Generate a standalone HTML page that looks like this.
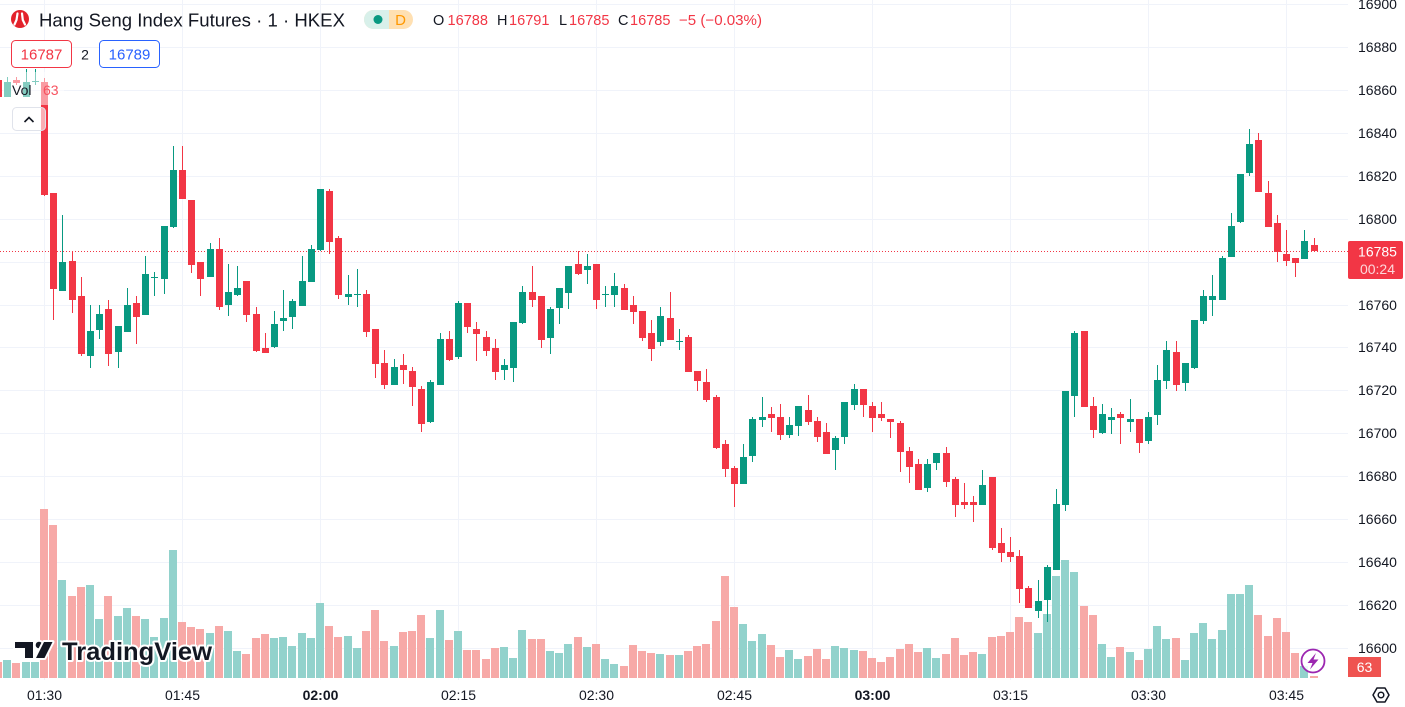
<!DOCTYPE html>
<html><head><meta charset="utf-8"><style>
html,body{margin:0;padding:0;background:#fff;}
svg{display:block;font-family:"Liberation Sans",sans-serif;}
</style></head><body>
<svg width="1405" height="707" viewBox="0 0 1405 707" xmlns="http://www.w3.org/2000/svg">
<rect width="1405" height="707" fill="#fff"/>
<!-- grid -->
<g stroke="#f0f3fa" stroke-width="1" shape-rendering="crispEdges">
<path d="M44.5 0V680M182.5 0V680M320.5 0V680M458.5 0V680M596.5 0V680M734.5 0V680M872.5 0V680M1010.5 0V680M1148.5 0V680M1286.5 0V680"/>
<path d="M0 4.5H1348M0 47.5H1348M0 90.5H1348M0 133.5H1348M0 176.5H1348M0 219.5H1348M0 262.5H1348M0 305.5H1348M0 347.5H1348M0 390.5H1348M0 433.5H1348M0 476.5H1348M0 519.5H1348M0 562.5H1348M0 605.5H1348M0 648.5H1348"/>
</g>
<!-- volume -->
<g shape-rendering="crispEdges">
<path fill="#92d2cc" d="M3 660h8V678h-8zM22 662h8V678h-8zM31 662h8V678h-8zM58 580h8V678h-8zM86 585h8V678h-8zM95 619h8V678h-8zM114 616h8V678h-8zM123 608h8V678h-8zM141 619h8V678h-8zM150 637h8V678h-8zM160 618h8V678h-8zM169 550h8V678h-8zM206 633h8V678h-8zM224 631h8V678h-8zM233 651h8V678h-8zM270 638h8V678h-8zM279 637h8V678h-8zM288 646h8V678h-8zM298 633h8V678h-8zM307 638h8V678h-8zM316 603h8V678h-8zM344 636h8V678h-8zM353 648h8V678h-8zM390 646h8V678h-8zM426 638h8V678h-8zM436 610h8V678h-8zM454 631h8V678h-8zM500 647h8V678h-8zM509 658h8V678h-8zM518 630h8V678h-8zM546 651h8V678h-8zM555 653h8V678h-8zM564 644h8V678h-8zM583 647h8V678h-8zM601 659h8V678h-8zM610 664h8V678h-8zM656 654h8V678h-8zM675 655h8V678h-8zM739 624h8V678h-8zM748 641h8V678h-8zM758 634h8V678h-8zM785 650h8V678h-8zM794 659h8V678h-8zM831 646h8V678h-8zM840 648h8V678h-8zM850 650h8V678h-8zM923 648h8V678h-8zM932 658h8V678h-8zM978 654h8V678h-8zM1034 633h8V678h-8zM1043 614h8V678h-8zM1052 576h8V678h-8zM1061 560h8V678h-8zM1070 572h8V678h-8zM1098 644h8V678h-8zM1107 657h8V678h-8zM1126 652h8V678h-8zM1144 649h8V678h-8zM1153 626h8V678h-8zM1162 639h8V678h-8zM1181 660h8V678h-8zM1190 633h8V678h-8zM1199 623h8V678h-8zM1208 639h8V678h-8zM1218 630h8V678h-8zM1227 594h8V678h-8zM1236 594h8V678h-8zM1245 585h8V678h-8zM1300 666h8V678h-8z"/>
<path fill="#f7a9a7" d="M-6 662h8V678h-8zM12 663h8V678h-8zM40 509h8V678h-8zM49 525h8V678h-8zM68 596h8V678h-8zM77 587h8V678h-8zM104 596h8V678h-8zM132 616h8V678h-8zM178 622h8V678h-8zM187 627h8V678h-8zM196 629h8V678h-8zM215 626h8V678h-8zM242 654h8V678h-8zM252 638h8V678h-8zM261 634h8V678h-8zM325 626h8V678h-8zM334 637h8V678h-8zM362 631h8V678h-8zM371 610h8V678h-8zM380 641h8V678h-8zM399 632h8V678h-8zM408 631h8V678h-8zM417 615h8V678h-8zM445 640h8V678h-8zM463 650h8V678h-8zM472 650h8V678h-8zM482 659h8V678h-8zM491 648h8V678h-8zM528 639h8V678h-8zM537 639h8V678h-8zM574 637h8V678h-8zM592 644h8V678h-8zM620 666h8V678h-8zM629 645h8V678h-8zM638 651h8V678h-8zM647 653h8V678h-8zM666 655h8V678h-8zM684 651h8V678h-8zM693 646h8V678h-8zM702 644h8V678h-8zM712 621h8V678h-8zM721 576h8V678h-8zM730 607h8V678h-8zM767 645h8V678h-8zM776 657h8V678h-8zM804 656h8V678h-8zM813 649h8V678h-8zM822 659h8V678h-8zM859 651h8V678h-8zM868 658h8V678h-8zM877 662h8V678h-8zM886 657h8V678h-8zM896 649h8V678h-8zM905 644h8V678h-8zM914 652h8V678h-8zM942 654h8V678h-8zM951 638h8V678h-8zM960 655h8V678h-8zM969 652h8V678h-8zM988 637h8V678h-8zM997 636h8V678h-8zM1006 632h8V678h-8zM1015 617h8V678h-8zM1024 622h8V678h-8zM1080 606h8V678h-8zM1089 615h8V678h-8zM1116 647h8V678h-8zM1135 660h8V678h-8zM1172 638h8V678h-8zM1254 615h8V678h-8zM1264 636h8V678h-8zM1273 618h8V678h-8zM1282 632h8V678h-8zM1291 653h8V678h-8zM1310 676h8V678h-8z"/>
</g>
<!-- price line -->
<line x1="0" y1="251.5" x2="1348" y2="251.5" stroke="#f23645" stroke-width="1" stroke-dasharray="1 2"/>
<!-- candles -->
<g shape-rendering="crispEdges">
<path fill="#089981" d="M7 77h1v20h-1zM26 69h1v28h-1zM35 69h1v16h-1zM62 215h1v76h-1zM90 305h1v63h-1zM99 305h1v34h-1zM118 326h1v42h-1zM127 288h1v44h-1zM145 256h1v59h-1zM154 272h1v24h-1zM164 226h1v68h-1zM173 146h1v82h-1zM210 243h1v34h-1zM228 264h1v52h-1zM237 266h1v30h-1zM274 311h1v37h-1zM283 290h1v41h-1zM292 299h1v30h-1zM302 256h1v50h-1zM311 245h1v37h-1zM320 189h1v62h-1zM348 275h1v30h-1zM357 269h1v38h-1zM394 359h1v26h-1zM430 380h1v43h-1zM440 333h1v52h-1zM458 301h1v58h-1zM504 359h1v21h-1zM513 322h1v60h-1zM522 286h1v38h-1zM550 307h1v47h-1zM559 288h1v36h-1zM568 266h1v43h-1zM587 254h1v30h-1zM605 286h1v21h-1zM614 273h1v34h-1zM660 307h1v39h-1zM679 329h1v21h-1zM743 444h1v40h-1zM752 417h1v45h-1zM762 397h1v30h-1zM789 417h1v21h-1zM798 406h1v30h-1zM835 436h1v34h-1zM844 402h1v42h-1zM854 384h1v26h-1zM927 459h1v33h-1zM936 453h1v17h-1zM982 470h1v35h-1zM1038 580h1v38h-1zM1047 565h1v57h-1zM1056 489h1v81h-1zM1065 391h1v120h-1zM1074 331h1v86h-1zM1102 404h1v30h-1zM1111 408h1v26h-1zM1130 399h1v33h-1zM1148 412h1v32h-1zM1157 365h1v60h-1zM1166 341h1v48h-1zM1185 363h1v28h-1zM1194 320h1v49h-1zM1203 290h1v34h-1zM1212 275h1v41h-1zM1222 256h1v44h-1zM1231 213h1v44h-1zM1240 174h1v49h-1zM1249 129h1v47h-1zM1304 230h1v29h-1z
M4 82h7v15h-7zM23 82h7v15h-7zM32 81h7v1h-7zM59 262h7v29h-7zM87 331h7v25h-7zM96 314h7v16h-7zM115 326h7v26h-7zM124 305h7v27h-7zM142 274h7v41h-7zM151 277h7v1h-7zM161 226h7v53h-7zM170 170h7v57h-7zM207 249h7v28h-7zM225 292h7v13h-7zM234 288h7v7h-7zM271 324h7v23h-7zM280 318h7v3h-7zM289 301h7v16h-7zM299 281h7v25h-7zM308 249h7v33h-7zM317 189h7v61h-7zM345 294h7v3h-7zM354 294h7v1h-7zM391 367h7v18h-7zM427 382h7v40h-7zM437 339h7v46h-7zM455 303h7v54h-7zM501 365h7v5h-7zM510 322h7v46h-7zM519 292h7v31h-7zM547 309h7v29h-7zM556 288h7v20h-7zM565 266h7v27h-7zM584 266h7v4h-7zM602 294h7v1h-7zM611 286h7v9h-7zM657 316h7v26h-7zM676 341h7v1h-7zM740 457h7v27h-7zM749 419h7v37h-7zM759 417h7v3h-7zM786 425h7v10h-7zM795 406h7v20h-7zM832 438h7v12h-7zM841 402h7v35h-7zM851 389h7v16h-7zM924 464h7v24h-7zM933 453h7v10h-7zM979 485h7v20h-7zM1035 601h7v10h-7zM1044 567h7v33h-7zM1053 504h7v66h-7zM1062 391h7v114h-7zM1071 333h7v63h-7zM1099 414h7v19h-7zM1108 417h7v3h-7zM1127 419h7v3h-7zM1145 417h7v24h-7zM1154 380h7v35h-7zM1163 350h7v31h-7zM1182 363h7v20h-7zM1191 320h7v48h-7zM1200 296h7v25h-7zM1209 296h7v4h-7zM1219 258h7v42h-7zM1228 226h7v31h-7zM1237 174h7v48h-7zM1246 144h7v29h-7zM1301 241h7v18h-7z"/>
<path fill="#f23645" d="M-2 80h1v17h-1zM16 77h1v8h-1zM44 78h1v118h-1zM53 193h1v127h-1zM72 252h1v61h-1zM81 277h1v79h-1zM108 300h1v66h-1zM136 296h1v48h-1zM182 146h1v53h-1zM191 200h1v73h-1zM200 262h1v34h-1zM219 238h1v72h-1zM246 281h1v41h-1zM256 307h1v45h-1zM265 333h1v20h-1zM329 189h1v65h-1zM338 236h1v63h-1zM366 290h1v47h-1zM375 329h1v49h-1zM384 350h1v39h-1zM403 354h1v30h-1zM412 367h1v39h-1zM421 386h1v46h-1zM449 331h1v30h-1zM467 303h1v30h-1zM476 322h1v39h-1zM486 331h1v25h-1zM495 339h1v41h-1zM532 266h1v41h-1zM541 296h1v52h-1zM578 251h1v24h-1zM596 264h1v45h-1zM624 284h1v26h-1zM633 296h1v28h-1zM642 311h1v30h-1zM651 320h1v41h-1zM670 292h1v48h-1zM688 335h1v37h-1zM697 371h1v20h-1zM706 369h1v33h-1zM716 395h1v54h-1zM725 440h1v37h-1zM734 466h1v41h-1zM771 407h1v25h-1zM780 404h1v36h-1zM808 395h1v30h-1zM817 417h1v25h-1zM826 423h1v31h-1zM863 389h1v28h-1zM872 402h1v30h-1zM881 402h1v19h-1zM890 419h1v19h-1zM900 421h1v51h-1zM909 447h1v36h-1zM918 459h1v31h-1zM946 447h1v40h-1zM955 477h1v40h-1zM964 483h1v26h-1zM973 496h1v26h-1zM992 477h1v73h-1zM1001 528h1v34h-1zM1010 537h1v25h-1zM1019 550h1v53h-1zM1028 586h1v22h-1zM1084 331h1v76h-1zM1093 397h1v41h-1zM1120 412h1v32h-1zM1139 419h1v34h-1zM1176 341h1v50h-1zM1258 133h1v59h-1zM1268 181h1v46h-1zM1277 215h1v47h-1zM1286 230h1v36h-1zM1295 258h1v19h-1zM1314 238h1v13h-1z
M-5 80h7v17h-7zM13 80h7v3h-7zM41 82h7v113h-7zM50 193h7v96h-7zM69 261h7v39h-7zM78 296h7v58h-7zM105 309h7v45h-7zM133 303h7v14h-7zM179 170h7v29h-7zM188 200h7v65h-7zM197 262h7v17h-7zM216 249h7v58h-7zM243 281h7v34h-7zM253 314h7v37h-7zM262 348h7v5h-7zM326 191h7v51h-7zM335 238h7v57h-7zM363 294h7v38h-7zM372 329h7v35h-7zM381 363h7v22h-7zM400 365h7v5h-7zM409 371h7v16h-7zM418 389h7v35h-7zM446 339h7v21h-7zM464 303h7v24h-7zM473 329h7v5h-7zM483 337h7v14h-7zM492 348h7v24h-7zM529 292h7v8h-7zM538 296h7v44h-7zM575 264h7v10h-7zM593 264h7v36h-7zM621 288h7v22h-7zM630 305h7v7h-7zM639 311h7v27h-7zM648 333h7v16h-7zM667 318h7v22h-7zM685 337h7v35h-7zM694 371h7v10h-7zM703 382h7v18h-7zM713 397h7v51h-7zM722 444h7v25h-7zM731 468h7v16h-7zM768 414h7v4h-7zM777 417h7v18h-7zM805 410h7v12h-7zM814 421h7v16h-7zM823 432h7v22h-7zM860 389h7v16h-7zM869 406h7v12h-7zM878 414h7v4h-7zM887 419h7v3h-7zM897 423h7v29h-7zM906 451h7v16h-7zM915 464h7v26h-7zM943 453h7v29h-7zM952 479h7v26h-7zM961 502h7v3h-7zM970 502h7v3h-7zM989 477h7v71h-7zM998 543h7v10h-7zM1007 552h7v5h-7zM1016 556h7v33h-7zM1025 588h7v20h-7zM1081 331h7v76h-7zM1090 406h7v24h-7zM1117 414h7v4h-7zM1136 419h7v24h-7zM1173 352h7v33h-7zM1255 140h7v52h-7zM1265 193h7v34h-7zM1274 223h7v29h-7zM1283 254h7v7h-7zM1292 258h7v5h-7zM1311 245h7v6h-7z"/>
</g>
<!-- legend overlay -->
<rect x="3" y="72" width="61" height="33" fill="#fff" fill-opacity="0.5"/>
<!-- header -->
<circle cx="20" cy="19" r="9" fill="#e3222b"/>
<path d="M17.5 13.5 L16.5 20 L14.5 24.5 M22 13.5 L22.8 20 L25 24.5" stroke="#fff" stroke-width="2.2" fill="none" stroke-linecap="round"/>
<text x="39" y="26.5" font-size="18" fill="#131722" textLength="306" lengthAdjust="spacingAndGlyphs">Hang Seng Index Futures · 1 · HKEX</text>
<rect x="364" y="10" width="49" height="19" rx="9.5" fill="#ffe0b2"/>
<rect x="364" y="10" width="30" height="19" rx="9.5" fill="#d8f0ea"/>
<rect x="380" y="10" width="9" height="19" fill="#d8f0ea"/>
<rect x="389" y="10" width="6" height="19" fill="#ffe0b2"/>
<circle cx="378" cy="19.5" r="4.5" fill="#089981"/>
<text x="400.5" y="25" font-size="15" fill="#ff9800" text-anchor="middle">D</text>
<g font-size="14.5">
<text x="433" y="25" fill="#131722">O</text>
<text x="447.5" y="25" fill="#f23645" textLength="40.5" lengthAdjust="spacingAndGlyphs">16788</text>
<text x="497" y="25" fill="#131722">H</text>
<text x="509" y="25" fill="#f23645" textLength="40.5" lengthAdjust="spacingAndGlyphs">16791</text>
<text x="559" y="25" fill="#131722">L</text>
<text x="569" y="25" fill="#f23645" textLength="40.5" lengthAdjust="spacingAndGlyphs">16785</text>
<text x="618" y="25" fill="#131722">C</text>
<text x="630" y="25" fill="#f23645" textLength="40.5" lengthAdjust="spacingAndGlyphs">16785</text>
<text x="679" y="25" fill="#f23645" textLength="83" lengthAdjust="spacingAndGlyphs">−5 (−0.03%)</text>
</g>
<rect x="11.5" y="40.5" width="60" height="27" rx="4" fill="#fff" stroke="#f23645"/>
<text x="41.5" y="59.5" font-size="15" fill="#f23645" text-anchor="middle">16787</text>
<text x="85" y="59.5" font-size="14" fill="#131722" text-anchor="middle">2</text>
<rect x="99.5" y="40.5" width="60" height="27" rx="4" fill="#fff" stroke="#2962ff"/>
<text x="129.5" y="59.5" font-size="15" fill="#2962ff" text-anchor="middle">16789</text>
<text x="12" y="95" font-size="14" fill="#131722">Vol</text>
<text x="43" y="95" font-size="14" fill="#f7525f">63</text>
<rect x="12.5" y="107.5" width="33" height="23" rx="4" fill="#fff" fill-opacity="0.6" stroke="#e0e3eb"/>
<polyline points="24.5,122 29,117.5 33.5,122" fill="none" stroke="#131722" stroke-width="1.6"/>
<!-- watermark -->
<g stroke="#fff" stroke-width="4" stroke-linejoin="round" paint-order="stroke">
<path d="M15 642H33V658H25V648H15Z" fill="#131722"/>
<circle cx="39" cy="645" r="3.3" fill="#131722"/>
<path d="M44 642H52.5L44.5 658H36Z" fill="#131722"/>
<text x="62" y="660" font-size="25" font-weight="bold" fill="#131722" textLength="150" lengthAdjust="spacingAndGlyphs">TradingView</text>
</g>
<!-- lightning icon -->
<circle cx="1313" cy="661" r="11.5" fill="#fff" fill-opacity="0.85" stroke="#9c27b0" stroke-width="1.8"/>
<path d="M1316 653L1307.5 663H1312.5L1310 669.5L1318.5 659.5H1313.5Z" fill="#9c27b0"/>
<!-- price axis -->
<rect x="1348" y="0" width="57" height="707" fill="#fff"/>
<g font-size="14" fill="#131722">
<text x="1358" y="9">16900</text>
<text x="1358" y="52">16880</text>
<text x="1358" y="95">16860</text>
<text x="1358" y="138">16840</text>
<text x="1358" y="181">16820</text>
<text x="1358" y="224">16800</text>
<text x="1358" y="310">16760</text>
<text x="1358" y="352">16740</text>
<text x="1358" y="395">16720</text>
<text x="1358" y="438">16700</text>
<text x="1358" y="481">16680</text>
<text x="1358" y="524">16660</text>
<text x="1358" y="567">16640</text>
<text x="1358" y="610">16620</text>
<text x="1358" y="653">16600</text>
</g>
<rect x="1348" y="241" width="55" height="38" rx="2" fill="#f23645"/>
<text x="1377.5" y="256.5" font-size="14" fill="#fff" text-anchor="middle">16785</text>
<text x="1377.5" y="274" font-size="14" fill="#fff" fill-opacity="0.8" text-anchor="middle">00:24</text>
<rect x="1348" y="657" width="33" height="20" fill="#ef5350"/>
<text x="1364.5" y="672" font-size="14" fill="#fff" text-anchor="middle">63</text>
<!-- time axis -->
<g font-size="14" fill="#131722" text-anchor="middle">
<text x="44.5" y="700">01:30</text>
<text x="182.5" y="700">01:45</text>
<text x="320.5" y="700" font-weight="bold">02:00</text>
<text x="458.5" y="700">02:15</text>
<text x="596.5" y="700">02:30</text>
<text x="734.5" y="700">02:45</text>
<text x="872.5" y="700" font-weight="bold">03:00</text>
<text x="1010.5" y="700">03:15</text>
<text x="1148.5" y="700">03:30</text>
<text x="1286.5" y="700">03:45</text>
</g>
<path d="M1373 695L1377 688H1385L1389 695L1385 702H1377Z" fill="none" stroke="#131722" stroke-width="1.5" stroke-linejoin="round"/>
<circle cx="1381" cy="695" r="2.8" fill="none" stroke="#131722" stroke-width="1.5"/>
</svg>
</body></html>
